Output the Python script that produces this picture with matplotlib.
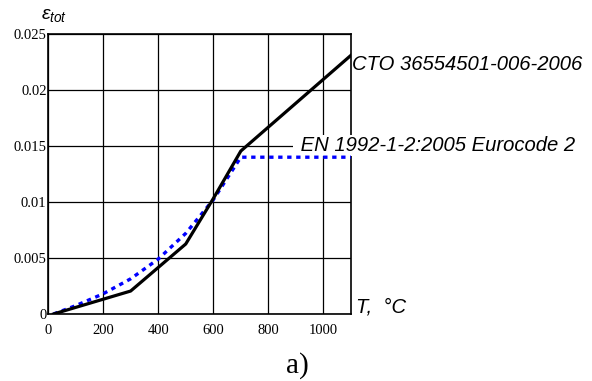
import matplotlib
matplotlib.use("Agg")
from matplotlib import pyplot as plt

# CTO 36554501-006-2006 (black solid)
t_cto = [20, 300, 500, 600, 700, 1100]
eps_cto = [0.0, 0.00205, 0.00625, 0.0103, 0.01455, 0.0231]

# EN 1992-1-2:2005 Eurocode 2 (blue dotted)
t_en = [20, 100, 200, 300, 400, 500, 600, 700, 1100]
eps_en = [0.0, 0.00074, 0.0018, 0.00314, 0.0049, 0.0072, 0.0102, 0.014, 0.014]

xticks = [0, 200, 400, 600, 800, 1000]
yticks = [0, 0.005, 0.01, 0.015, 0.02, 0.025]
ylabels = ["0", "0.005", "0.01", "0.015", "0.02", "0.025"]

plt.rcParams['mathtext.fontset'] = 'custom'
plt.rcParams['mathtext.it'] = 'Liberation Sans:italic'
plt.rcParams['mathtext.rm'] = 'Liberation Sans'

fig = plt.figure(figsize=(5.92, 3.81), dpi=100)
ax = fig.add_axes([48/592, 1-314/381, 303/592, 280/381])

ax.plot(t_en, eps_en, color='#0000ff', lw=2.4, dashes=(1.3, 1.4), zorder=3)
ax.plot(t_cto, eps_cto, color='black', lw=2.3, zorder=4)

ax.set_xlim(0, 1100)
ax.set_ylim(0, 0.025)
ax.set_xticks(xticks)
ax.set_xticklabels([str(v) for v in xticks])
ax.set_yticks(yticks)
ax.set_yticklabels(ylabels)
ax.tick_params(axis='x', length=0, pad=7, labelsize=10.5)
ax.tick_params(axis='y', length=0, pad=1, labelsize=10.5)
for lab in ax.get_xticklabels() + ax.get_yticklabels():
    lab.set_family('Liberation Serif')
for lab in ax.get_yticklabels():
    lab.set_verticalalignment('center_baseline')
ax.grid(True, color='black', lw=0.9)
for s in ax.spines.values():
    s.set_linewidth(1.2)

sans = ['Liberation Sans', 'DejaVu Sans']
ax.text(1102, 0.0223, 'CTO 36554501-006-2006', family=sans, style='italic',
        fontsize=14.6, va='center', ha='left', clip_on=False)
# leading space widens the white box so it hides the grid left of the text
ax.text(895, 0.01505, ' EN 1992-1-2:2005 Eurocode 2', family=sans, style='italic',
        fontsize=14.6, va='center', ha='left', clip_on=False, zorder=2.8,
        bbox=dict(facecolor='white', edgecolor='none', pad=1))
ax.text(1118, 0.00062, 'T,  °C', family=sans, style='italic', fontsize=14.6,
        va='center', ha='left', clip_on=False)
fig.text(41/592, 1-15/381, r'$ε_{tot}$', fontsize=14, va='center', ha='left')
fig.text(297/592, 1-366/381, 'a)', family='Liberation Serif', fontsize=21,
         va='center', ha='center')

plt.savefig("out.png", dpi=100)
